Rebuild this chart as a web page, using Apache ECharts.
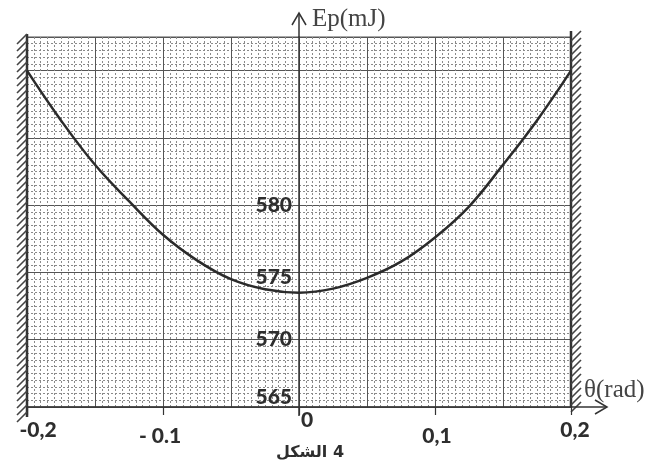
<!DOCTYPE html>
<html lang="en">
<head>
  <meta charset="UTF-8">
  <title>Ep(θ)</title>
  <style>
    html, body {
      margin: 0;
      padding: 0;
      width: 100%;
      height: 100%;
      background: #fff;
    }
    .main {
      width: 652px;
      height: 469px;
    }
  </style>
</head>
<body>
<div class="main" id="main"></div>
<script src="https://cdn.jsdelivr.net/npm/echarts@6/dist/echarts.min.js"></script>
<script>
  // angle θ (rad) and potential energy Ep (mJ)
  var thetaValues = [-0.2, -0.175, -0.15, -0.125, -0.1, -0.075, -0.05, -0.025, 0,
                     0.025, 0.05, 0.075, 0.1, 0.125, 0.15, 0.175, 0.2];
  var epValues = [590.0, 586.3, 583.0, 580.3, 577.8, 575.9, 574.5, 573.75, 573.5,
                  573.8, 574.6, 575.8, 577.6, 579.9, 583.0, 586.3, 590.0];

  // tick labels as printed on the figure
  var xTickValues = [-0.2, -0.1, 0, 0.1, 0.2];
  var xTickLabels = ['-0,2', '- 0.1', '0', '0,1', '0,2'];
  var yTickValues = [565, 570, 575, 580];
  var yTickLabels = ['565', '570', '575', '580'];

  var xMin = -0.2, xMax = 0.2, yMin = 565, yMax = 592.5;

  var ink = '#333';
  var chart = echarts.init(document.getElementById('main'));

  function findIndex(list, v) {
    for (var i = 0; i < list.length; i++) {
      if (Math.abs(list[i] - v) < 1e-9) return i;
    }
    return -1;
  }

  function numStyle(pad) {
    return { padding: pad, fontSize: 21, fontWeight: 900, color: '#2e2e2e', fontFamily: 'Lato' };
  }

  var data = thetaValues.map(function (t, i) { return [t, epValues[i]]; });

  var paperMajor = { show: true, lineStyle: { color: '#555', width: 1 } };
  var paperMinor = { show: true, lineStyle: { color: '#8a8a8a', width: 1, type: [2, 2] } };

  var option = {
    animation: false,
    grid: {
      left: 27, right: 81, top: 37, bottom: 62,
      outerBoundsMode: 'none',
      containLabel: false,
      show: true, borderColor: '#555', borderWidth: 1
    },
    xAxis: [{
      type: 'value',
      min: xMin, max: xMax, interval: 0.1,
      axisLine: { onZero: false, lineStyle: { color: ink, width: 1.5 } },
      axisTick: { show: true, length: 8, lineStyle: { color: ink, width: 1.2 } },
      splitLine: { show: false },
      axisLabel: {
        margin: 3,
        formatter: function (v) {
          var i = findIndex(xTickValues, v);
          return i < 0 ? '' : '{l' + i + '|' + xTickLabels[i] + '}';
        },
        rich: {
          l0: numStyle([10, 0, 0, 22]),
          l1: numStyle([16, 6, 0, 0]),
          l2: numStyle([0, 0, 0, 16]),
          l3: numStyle([16, 0, 0, 4]),
          l4: numStyle([10, 0, 0, 8])
        }
      }
    }, {
      type: 'value',
      min: xMin, max: xMax, interval: 0.05,
      axisLine: { show: false },
      axisTick: { show: false },
      axisLabel: { show: false },
      minorTick: { show: false, splitNumber: 10 },
      splitLine: paperMajor,
      minorSplitLine: paperMinor
    }],
    yAxis: [{
      type: 'value',
      min: yMin, max: yMax, interval: 5,
      axisLine: { show: true, onZero: true, onZeroAxisIndex: 0, lineStyle: { color: ink, width: 1.5 } },
      axisTick: { show: false },
      axisLabel: { show: false },
      minorTick: { show: false, splitNumber: 10 },
      splitLine: paperMajor,
      minorSplitLine: paperMinor
    }],
    series: [{
      type: 'line',
      xAxisIndex: 0,
      yAxisIndex: 0,
      data: data,
      smooth: 0.4,
      showSymbol: false,
      lineStyle: { color: '#2b2b2b', width: 2.5 }
    }]
  };

  chart.setOption(option);

  // positions taken from the axis scales
  var bl = chart.convertToPixel({ xAxisIndex: 0, yAxisIndex: 0 }, [xMin, yMin]);
  var tr = chart.convertToPixel({ xAxisIndex: 0, yAxisIndex: 0 }, [xMax, yMax]);
  var o = chart.convertToPixel({ xAxisIndex: 0, yAxisIndex: 0 }, [0, yMin]);

  // value labels of the y axis sit next to the θ = 0 line
  var yLabelAxis = {
    type: 'value',
    min: yMin, max: yMax, interval: 5,
    position: 'left',
    offset: -(o[0] - bl[0]),
    axisLine: { show: false, onZero: false },
    axisTick: { show: false },
    splitLine: { show: false },
    axisLabel: {
      margin: 7,
      formatter: function (v) {
        var i = findIndex(yTickValues, v);
        return i < 0 ? '' : '{m' + i + '|' + yTickLabels[i] + '}';
      },
      rich: {
        m0: numStyle([0, 0, 20, 0]),
        m1: numStyle([0, 0, 0, 0]),
        m2: numStyle([10, 0, 0, 0]),
        m3: numStyle([0, 0, 0, 0])
      }
    }
  };

  var lineStyle = { stroke: ink, lineWidth: 1.5 };
  var g = [];

  // hatched walls at θ = ±0.2
  var walls = [
    { x: bl[0], top: tr[1] - 3, bottom: bl[1] + 10, side: -1 },
    { x: tr[0], top: tr[1] - 6, bottom: bl[1], side: 1 }
  ];
  walls.forEach(function (w) {
    g.push({ type: 'line', shape: { x1: w.x, y1: w.top, x2: w.x, y2: w.bottom }, style: { stroke: ink, lineWidth: 2.5 } });
    var x0 = w.side < 0 ? w.x - 10 : w.x;
    for (var y = w.top; y < w.bottom; y += 7) {
      g.push({ type: 'line', shape: { x1: x0, y1: y + 10, x2: x0 + 10, y2: y },
               style: { stroke: '#444', lineWidth: 1.6 } });
    }
  });

  // Ep arrow
  g.push({ type: 'line', shape: { x1: o[0], y1: tr[1], x2: o[0], y2: tr[1] - 24 }, style: lineStyle });
  g.push({ type: 'polyline', shape: { points: [[o[0] - 7, tr[1] - 12], [o[0], tr[1] - 24], [o[0] + 7, tr[1] - 12]] }, style: lineStyle });
  g.push({ type: 'line', shape: { x1: o[0], y1: bl[1], x2: o[0], y2: bl[1] + 9 }, style: lineStyle });
  // θ arrow
  g.push({ type: 'line', shape: { x1: tr[0], y1: bl[1], x2: tr[0] + 36, y2: bl[1] }, style: lineStyle });
  g.push({ type: 'polyline', shape: { points: [[tr[0] + 24, bl[1] - 7], [tr[0] + 36, bl[1]], [tr[0] + 24, bl[1] + 7]] }, style: lineStyle });

  g.push({ type: 'text', x: o[0] + 13, y: tr[1] - 18,
           style: { text: 'Ep(mJ)', fontFamily: 'Liberation Serif', fontSize: 25, fill: '#444', verticalAlign: 'middle' } });
  g.push({ type: 'text', x: tr[0] + 13, y: bl[1] - 17,
           style: { text: 'θ(rad)', fontFamily: 'Liberation Serif', fontSize: 25, fill: '#444', verticalAlign: 'middle' } });
  g.push({ type: 'text', x: o[0] + 11, y: o[1] + 46,
           style: { text: 'الشكل\u200E 4', fontFamily: 'DejaVu Sans', fontWeight: 'bold', fontSize: 16, fill: '#2e2e2e', align: 'center', verticalAlign: 'middle' } });

  chart.setOption({ yAxis: [option.yAxis[0], yLabelAxis], graphic: g });
</script>
</body>
</html>
